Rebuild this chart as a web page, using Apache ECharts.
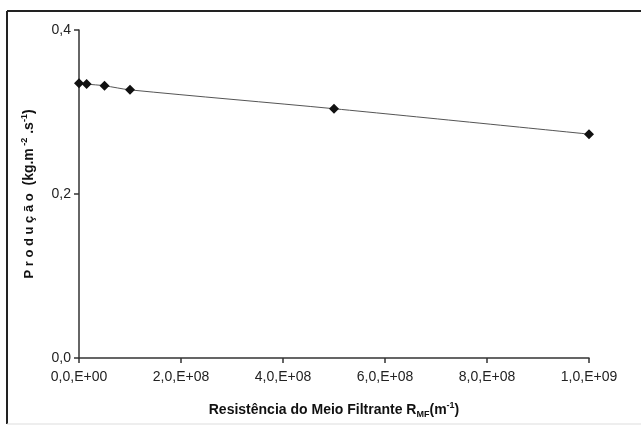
<!DOCTYPE html>
<html>
<head>
<meta charset="utf-8">
<script src="https://cdn.jsdelivr.net/npm/echarts@6/dist/echarts.min.js"></script>
<style>
  html, body { margin: 0; padding: 0; background: #fff; }
  #chart { width: 641px; height: 428px; }
</style>
</head>
<body>
<div id="chart"></div>
<script>
// Resistência do meio filtrante (m^-1) vs produção (kg.m^-2.s^-1)
const resistance = [0, 1.5e7, 5e7, 1e8, 5e8, 1e9]
const production = [0.335, 0.334, 0.332, 0.327, 0.304, 0.273]
const xTickLabels = ['0,0,E+00', '2,0,E+08', '4,0,E+08', '6,0,E+08', '8,0,E+08', '1,0,E+09']
const yTickLabels = ['0,0', '0,2', '0,4']

const font = 'Liberation Sans, Arial, sans-serif'
const chart = echarts.init(document.getElementById('chart'), null, { renderer: 'canvas' })

chart.setOption({
  animation: false,
  backgroundColor: '#fff',
  textStyle: { fontFamily: font },
  graphic: [
    // frame: top and left drawn dark, bottom faint
    { type: 'line', shape: { x1: 7, y1: 11, x2: 641, y2: 11 }, style: { stroke: '#222', lineWidth: 2 }, silent: true },
    { type: 'line', shape: { x1: 7, y1: 11, x2: 7, y2: 424 }, style: { stroke: '#222', lineWidth: 2 }, silent: true },
    { type: 'line', shape: { x1: 7, y1: 424, x2: 641, y2: 424 }, style: { stroke: '#ddd', lineWidth: 1 }, silent: true },
  ],
  grid: { left: 79, right: 52, top: 30, bottom: 70 },
  xAxis: {
    type: 'value',
    min: 0,
    max: 1e9,
    interval: 2e8,
    name: '{t|Resistência do Meio Filtrante R}{sub|MF}{t|(m}{sup|-1}{t|)}',
    nameLocation: 'middle',
    nameGap: 43,
    nameTextStyle: {
      rich: {
        t: { fontFamily: font, fontSize: 14, fontWeight: 'bold', color: '#111' },
        sub: { fontFamily: font, fontSize: 9, fontWeight: 'bold', color: '#111', verticalAlign: 'bottom', padding: [9, 0, 0, 0] },
        sup: { fontFamily: font, fontSize: 9, fontWeight: 'bold', color: '#111', verticalAlign: 'top', padding: [0, 0, 9, 0] },
      },
    },
    axisLine: { lineStyle: { color: '#333', width: 1.5 } },
    axisTick: { show: true, length: 5, lineStyle: { color: '#333', width: 1.5 } },
    axisLabel: {
      margin: 12,
      fontSize: 14,
      color: '#222',
      formatter: (v) => xTickLabels[Math.round(v / 2e8)] ?? '',
    },
    splitLine: { show: false },
  },
  yAxis: {
    type: 'value',
    min: 0,
    max: 0.4,
    interval: 0.2,
    name: '{s|P r o d u ç ã o}{t|  (kg.m}{sup| -2}{t| .s}{sup|-1}{t|)}',
    nameLocation: 'middle',
    nameRotate: 90,
    nameGap: 41,
    nameTextStyle: {
      rich: {
        s: { fontFamily: font, fontSize: 13, fontWeight: 'bold', color: '#111' },
        t: { fontFamily: font, fontSize: 14, fontWeight: 'bold', color: '#111' },
        sup: { fontFamily: font, fontSize: 9, fontWeight: 'bold', color: '#111', verticalAlign: 'top', padding: [0, 0, 9, 0] },
      },
    },
    axisLine: { show: true, lineStyle: { color: '#333', width: 1.5 } },
    axisTick: { show: true, length: 5, lineStyle: { color: '#333', width: 1.5 } },
    axisLabel: {
      margin: 8,
      fontSize: 14,
      color: '#222',
      formatter: (v) => yTickLabels[Math.round(v / 0.2)] ?? '',
    },
    splitLine: { show: false },
  },
  series: [
    {
      type: 'line',
      data: resistance.map((x, i) => [x, production[i]]),
      smooth: 0.3,
      symbol: 'diamond',
      symbolSize: 10,
      itemStyle: { color: '#111' },
      lineStyle: { color: '#555', width: 1 },
    },
  ],
})
</script>
</body>
</html>
